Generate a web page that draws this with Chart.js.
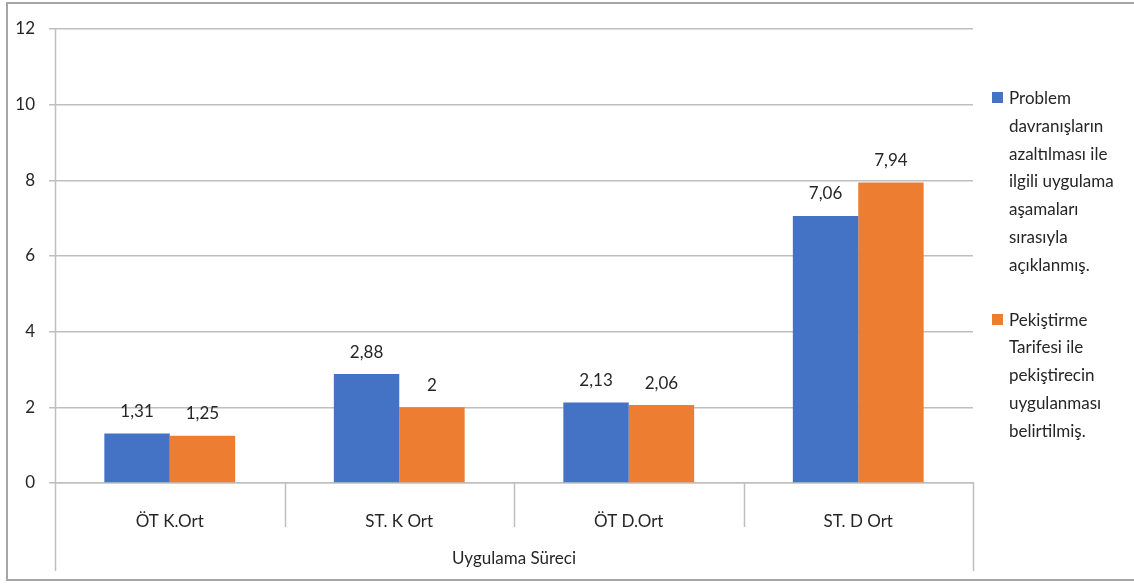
<!DOCTYPE html>
<html>
<head>
<meta charset="utf-8">
<script src="https://cdn.jsdelivr.net/npm/chart.js@4"></script>
<style>
  html, body { margin: 0; padding: 0; background: #fff; }
  #wrap { position: relative; width: 1134px; height: 585px; overflow: hidden; }
  #frame { position: absolute; left: 6px; top: 2px; width: 1140px; height: 579px;
           border: 2px solid #a6a6a6; box-sizing: border-box; }
  #legend { position: absolute; left: 992px; top: 84px; font-family: Lato, sans-serif;
            font-size: 17px; color: #262626; line-height: 27.8px; }
  .item { position: relative; padding-left: 17px; margin-bottom: 27px; }
  .box { position: absolute; left: 0; top: 8px; width: 11px; height: 11px; }
</style>
</head>
<body>
<div id="wrap">
  <canvas id="barChart" width="1134" height="585"></canvas>
  <div id="frame"></div>
  <div id="legend"></div>
</div>
<script>
// Data
const categories = ['ÖT K.Ort', 'ST. K Ort', 'ÖT D.Ort', 'ST. D Ort'];
const seriesNames = [
    'Problem davranışların azaltılması ile ilgili uygulama aşamaları sırasıyla açıklanmış.',
    'Pekiştirme Tarifesi ile pekiştirecin uygulanması belirtilmiş.'
];
// how the legend text is broken into lines
const legendLines = [
    ['Problem', 'davranışların', 'azaltılması ile', 'ilgili uygulama', 'aşamaları', 'sırasıyla', 'açıklanmış.'],
    ['Pekiştirme', 'Tarifesi ile', 'pekiştirecin', 'uygulanması', 'belirtilmiş.']
];
const problemValues = [1.31, 2.88, 2.13, 7.06];
const pekistirmeValues = [1.25, 2, 2.06, 7.94];
const seriesColors = ['#4472C4', '#ED7D31'];

const axisColor = '#bfbfbf';
const textColor = '#262626';
const fontFamily = 'Lato, sans-serif';

// value labels above each bar, with a comma as decimal mark
const barLabels = {
    id: 'barLabels',
    afterDatasetsDraw(chart) {
        const ctx = chart.ctx;
        ctx.save();
        ctx.font = '17px ' + fontFamily;
        ctx.fillStyle = textColor;
        ctx.textAlign = 'center';
        ctx.textBaseline = 'middle';
        chart.data.datasets.forEach((ds, i) => {
            chart.getDatasetMeta(i).data.forEach((bar, j) => {
                const txt = String(ds.data[j]).replace('.', ',');
                ctx.fillText(txt, bar.x, bar.y - 22);
            });
        });
        ctx.restore();
    }
};

// category separators below the axis, outer ones reach down past the title
const axisDividers = {
    id: 'axisDividers',
    afterDraw(chart) {
        const ctx = chart.ctx;
        const area = chart.chartArea;
        const n = chart.data.labels.length;
        const step = (area.right - area.left) / n;
        ctx.save();
        ctx.strokeStyle = axisColor;
        ctx.lineWidth = 1.5;
        for (let i = 0; i <= n; i++) {
            const x = Math.round(area.left + i * step) + 0.5;
            const outer = (i === 0 || i === n);
            ctx.beginPath();
            // only the value axis (left) runs up through the plot
            ctx.moveTo(x, i === 0 ? area.top : area.bottom);
            ctx.lineTo(x, area.bottom + (outer ? 88 : 44));
            ctx.stroke();
        }
        ctx.restore();
    }
};

const ctxBar = document.getElementById('barChart').getContext('2d');
const barChart = new Chart(ctxBar, {
    type: 'bar',
    data: {
        labels: categories,
        datasets: [{
            label: seriesNames[0],
            data: problemValues,
            backgroundColor: seriesColors[0]
        }, {
            label: seriesNames[1],
            data: pekistirmeValues,
            backgroundColor: seriesColors[1]
        }]
    },
    options: {
        responsive: false,
        animation: false,
        layout: {
            padding: { left: 0, right: 161, top: 29, bottom: 0 }
        },
        datasets: {
            bar: { barPercentage: 1, categoryPercentage: 0.57 }
        },
        plugins: {
            legend: { display: false },
            tooltip: { enabled: false }
        },
        scales: {
            x: {
                grid: { display: false },
                border: { display: true, color: axisColor, width: 1.5 },
                ticks: {
                    color: textColor,
                    font: { family: fontFamily, size: 17 },
                    padding: 20
                },
                title: {
                    display: true,
                    text: 'Uygulama Süreci',
                    color: textColor,
                    font: { family: fontFamily, size: 17 },
                    padding: { top: 0, bottom: 16 }
                },
                afterFit(scale) { scale.height = 102; }
            },
            y: {
                min: 0,
                max: 12,
                ticks: {
                    stepSize: 2,
                    color: textColor,
                    font: { family: fontFamily, size: 17 },
                    padding: 14
                },
                grid: { color: axisColor, lineWidth: 1.5, tickLength: 6 },
                border: { display: false },
                afterFit(scale) { scale.width = 55; }
            }
        }
    },
    plugins: [barLabels, axisDividers]
});

// legend as html text, so the long labels can wrap
const legendEl = document.getElementById('legend');
legendLines.forEach((lines, i) => {
    const item = document.createElement('div');
    item.className = 'item';
    item.innerHTML = '<span class="box" style="background:' + seriesColors[i] + '"></span>' + lines.join('<br>');
    legendEl.appendChild(item);
});
</script>
</body>
</html>
